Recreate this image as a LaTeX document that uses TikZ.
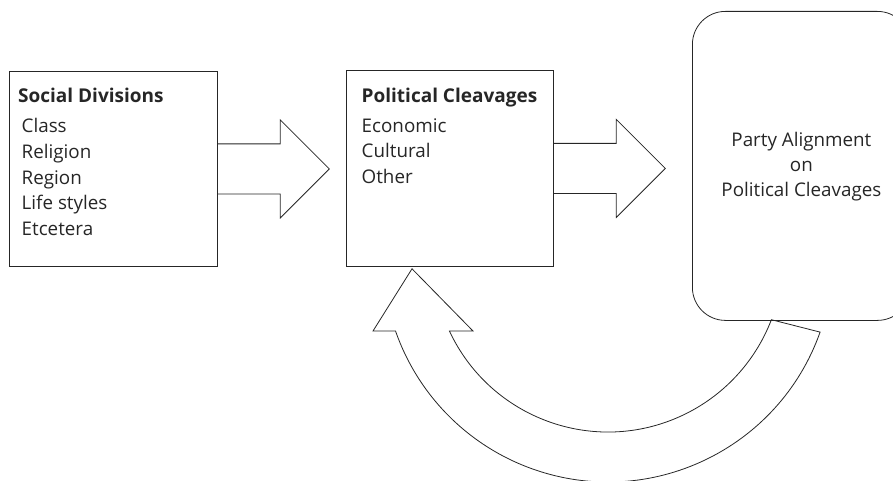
\documentclass[tikz,border=0pt]{standalone}
\usepackage{fontspec}
\setmainfont{Open Sans}
\usetikzlibrary{calc}
\begin{document}
\begin{tikzpicture}[x=1pt,y=1pt,
  box/.style={draw=black!85, line width=0.8pt, inner sep=0pt, anchor=north west},
  blockarrow/.style={draw=black!85, line width=0.8pt, line join=miter},
  lbl/.style={anchor=base west, inner sep=0pt, font=\fontsize{18.8}{21}\selectfont, text=black!85},
  hd/.style={anchor=base west, inner sep=0pt, font=\fontsize{19}{21}\selectfont\bfseries, text=black!85},
  ctr/.style={anchor=base, inner sep=0pt, font=\fontsize{18.8}{21}\selectfont, text=black!85}]
\clip (0,0) rectangle (893,-481);
% boxes
\node[box, minimum width=208pt, minimum height=195pt] (b1) at (9,-71) {};
\node[box, minimum width=207pt, minimum height=196pt] (b2) at (346,-70) {};
\node[box, minimum width=218pt, minimum height=309pt, rounded corners=33pt] (b3) at (692,-11) {};
% box 1 text
\node[hd] (h1) at ($(b1.north west)+(9,-32)$) {Social Divisions};
\foreach \t [count=\i] in {Class,Religion,Region,Life styles,Etcetera}
  \node[lbl] (s\i) at ($(b1.north west)+(12.5,-62-25.5*\i+25.5)$) {\t};
% box 2 text
\node[hd] (h2) at ($(b2.north west)+(15.5,-32.7)$) {Political Cleavages};
\foreach \t [count=\i] in {Economic,Cultural,Other}
  \node[lbl] (p\i) at ($(b2.north west)+(15.5,-62.7-25.3*\i+25.3)$) {\t};
% box 3 text
\node[ctr] (t1) at ($(b3.north)+(0,-135.7)$) {Party Alignment};
\node[ctr] (t2) at ($(b3.north)+(0,-160.7)$) {on};
\node[ctr] (t3) at ($(b3.north)+(0,-185.7)$) {Political Cleavages};
% block arrow 1
\draw[blockarrow] ($(b1.east)+(0,25)$) -- ++(62.5,0) -- ++(0,24) -- ($(b1.east)+(111.5,0)$)
  -- ($(b1.east)+(62.5,-49)$) -- ++(0,24) -- ($(b1.east)+(0,-25)$);
% block arrow 2
\draw[blockarrow] ($(b2.east)+(0,25)$) -- ++(62.5,0) -- ++(0,24) -- ($(b2.east)+(111.5,0)$)
  -- ($(b2.east)+(62.5,-49)$) -- ++(0,24) -- ($(b2.east)+(0,-25)$);
% curved feedback arrow
\coordinate (cc) at (608,-257);
\coordinate (tip) at ($(b2.south west)+(66,-2)$);
\draw[blockarrow] ($(cc)+(-21:175)$) -- ($(cc)+(-19.5:225)$)
  arc[start angle=-19.5, end angle=-160.8, radius=225]
  -- (373,-331) -- (tip) -- (473,-331)
  -- ($(cc)+(-155:175)$)
  arc[start angle=-155, end angle=-21, radius=175] -- cycle;
\end{tikzpicture}
\end{document}
